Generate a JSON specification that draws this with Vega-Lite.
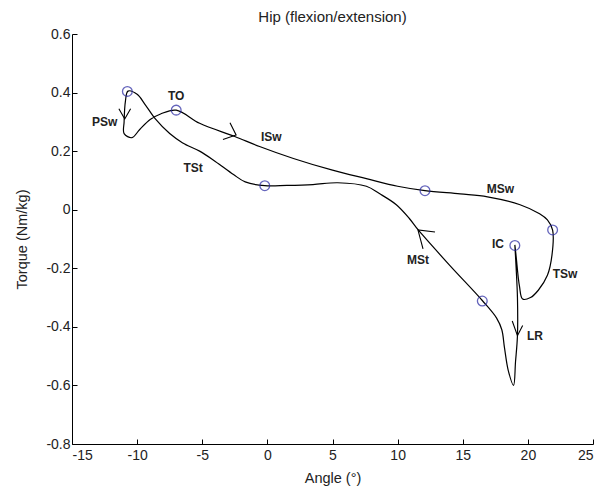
{
  "$schema": "https://vega.github.io/schema/vega-lite/v6.json",
  "width": 521,
  "height": 410,
  "autosize": "none",
  "padding": {"left": 72, "top": 34, "right": 8, "bottom": 46},
  "background": "white",
  "title": {"text": "Hip (flexion/extension)", "font": "Liberation Sans", "fontSize": 15, "fontWeight": "normal", "color": "#222", "offset": 2},
  "config": {"view": {"stroke": null}},
  "datasets": {
    "path": [
      {"o":1,"x":19.0,"y":-0.12},{"o":2,"x":19.1,"y":-0.2},{"o":3,"x":19.2,"y":-0.3},{"o":4,"x":19.2,"y":-0.43},{"o":5,"x":19.05,"y":-0.52},{"o":6,"x":18.9,"y":-0.6},{"o":7,"x":18.5,"y":-0.55},{"o":8,"x":18.2,"y":-0.47},{"o":9,"x":18.0,"y":-0.41},{"o":10,"x":17.6,"y":-0.37},{"o":11,"x":16.5,"y":-0.31},{"o":12,"x":14.0,"y":-0.19},{"o":13,"x":11.6,"y":-0.07},{"o":14,"x":10.9,"y":-0.03},{"o":15,"x":9.9,"y":0.017},{"o":16,"x":8.6,"y":0.055},{"o":17,"x":7.6,"y":0.08},{"o":18,"x":5.4,"y":0.092},{"o":19,"x":3.5,"y":0.086},{"o":20,"x":1.5,"y":0.083},{"o":21,"x":-0.2,"y":0.082},{"o":22,"x":-1.7,"y":0.095},{"o":23,"x":-2.6,"y":0.12},{"o":24,"x":-4.0,"y":0.165},{"o":25,"x":-5.2,"y":0.2},{"o":26,"x":-6.5,"y":0.228},{"o":27,"x":-7.5,"y":0.26},{"o":28,"x":-8.6,"y":0.31},{"o":29,"x":-9.4,"y":0.36},{"o":30,"x":-10.0,"y":0.394},{"o":31,"x":-10.7,"y":0.405},{"o":32,"x":-10.9,"y":0.37},{"o":33,"x":-11.0,"y":0.3},{"o":34,"x":-11.0,"y":0.26},{"o":35,"x":-10.4,"y":0.246},{"o":36,"x":-9.8,"y":0.274},{"o":37,"x":-9.0,"y":0.308},{"o":38,"x":-8.2,"y":0.327},{"o":39,"x":-7.0,"y":0.34},{"o":40,"x":-5.2,"y":0.295},{"o":41,"x":-2.5,"y":0.25},{"o":42,"x":-0.6,"y":0.216},{"o":43,"x":2.0,"y":0.175},{"o":44,"x":5.0,"y":0.135},{"o":45,"x":7.6,"y":0.106},{"o":46,"x":10.0,"y":0.08},{"o":47,"x":12.1,"y":0.065},{"o":48,"x":14.8,"y":0.054},{"o":49,"x":16.9,"y":0.044},{"o":50,"x":19.4,"y":0.017},{"o":51,"x":20.9,"y":-0.014},{"o":52,"x":21.5,"y":-0.035},{"o":53,"x":21.9,"y":-0.07},{"o":54,"x":21.85,"y":-0.155},{"o":55,"x":21.5,"y":-0.224},{"o":56,"x":20.8,"y":-0.275},{"o":57,"x":20.2,"y":-0.3},{"o":58,"x":19.6,"y":-0.305},{"o":59,"x":19.35,"y":-0.26},{"o":60,"x":19.1,"y":-0.16},{"o":61,"x":19.0,"y":-0.12}
    ],
    "markers": [
      {"x":-10.75,"y":0.404},{"x":-7.0,"y":0.34},{"x":-0.2,"y":0.082},{"x":12.1,"y":0.065},{"x":21.9,"y":-0.069},{"x":19.0,"y":-0.122},{"x":16.5,"y":-0.312}
    ],
    "arrows": [
      {"a":"PSw","o":1,"x":-11.4,"y":0.345},{"a":"PSw","o":2,"x":-10.95,"y":0.31},{"a":"PSw","o":3,"x":-10.5,"y":0.345},
      {"a":"ISw","o":1,"x":-2.87,"y":0.297},{"a":"ISw","o":2,"x":-2.4,"y":0.255},{"a":"ISw","o":3,"x":-3.41,"y":0.24},
      {"a":"MSt","o":1,"x":12.87,"y":-0.076},{"a":"MSt","o":2,"x":11.56,"y":-0.069},{"a":"MSt","o":3,"x":11.95,"y":-0.134},
      {"a":"LR","o":1,"x":18.8,"y":-0.38},{"a":"LR","o":2,"x":19.2,"y":-0.43},{"a":"LR","o":3,"x":19.6,"y":-0.395}
    ],
    "labels": [
      {"t":"TO","x":-7.0,"y":0.387},{"t":"PSw","x":-12.5,"y":0.298},{"t":"ISw","x":0.3,"y":0.25},{"t":"TSt","x":-5.7,"y":0.144},{"t":"MSw","x":17.9,"y":0.07},{"t":"MSt","x":11.56,"y":-0.17},{"t":"IC","x":17.7,"y":-0.117},{"t":"TSw","x":22.85,"y":-0.22},{"t":"LR","x":20.55,"y":-0.43}
    ]
  },
  "encoding": {
    "x": {"field": "x", "type": "quantitative", "scale": {"domain": [-15, 25], "nice": false, "zero": false},
      "axis": {"title": "Angle (°)", "values": [-15,-10,-5,0,5,10,15,20,25], "grid": false, "tickSize": -5, "tickColor": "#000", "domainColor": "#000", "labelColor": "#222", "labelFont": "Liberation Sans", "labelFontSize": 14, "labelPadding": 9, "titleFont": "Liberation Sans", "titleFontSize": 14.5, "titleFontWeight": "normal", "titleColor": "#222", "titlePadding": 9, "labelExpr": "(datum.value < 0 ? '-' : '') + format(abs(datum.value), 'd')"}},
    "y": {"field": "y", "type": "quantitative", "scale": {"domain": [-0.8, 0.6], "nice": false, "zero": false},
      "axis": {"title": "Torque (Nm/kg)", "values": [-0.8,-0.6,-0.4,-0.2,0,0.2,0.4,0.6], "grid": false, "tickSize": -5, "tickColor": "#000", "domainColor": "#000", "labelColor": "#222", "labelFont": "Liberation Sans", "labelFontSize": 14, "labelPadding": 7, "titleFont": "Liberation Sans", "titleFontSize": 14.5, "titleFontWeight": "normal", "titleColor": "#222", "titlePadding": 16, "labelExpr": "datum.value == 0 ? '0' : (datum.value < 0 ? '-' : '') + format(abs(datum.value), '.1f')"}}
  },
  "layer": [
    {"data": {"name": "path"}, "mark": {"type": "line", "color": "#000", "strokeWidth": 1.2, "interpolate": "catmull-rom"}, "encoding": {"order": {"field": "o", "type": "quantitative"}}},
    {"data": {"name": "arrows"}, "mark": {"type": "line", "color": "#000", "strokeWidth": 1.1}, "encoding": {"detail": {"field": "a"}, "order": {"field": "o", "type": "quantitative"}}},
    {"data": {"name": "markers"}, "mark": {"type": "point", "shape": "circle", "filled": false, "color": "#2424a0", "size": 95, "strokeWidth": 1.3}},
    {"data": {"name": "labels"}, "mark": {"type": "text", "font": "Liberation Sans", "fontSize": 12, "fontWeight": "bold", "color": "#222"}, "encoding": {"text": {"field": "t"}}}
  ]
}
